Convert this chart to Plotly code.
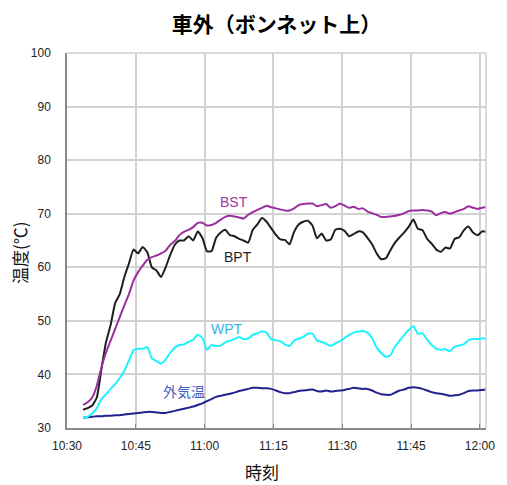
import pandas as pd
import plotly.graph_objects as go

# Sampling times: one reading per minute
times = pd.date_range("2020-08-01 10:33:30", periods=89, freq="1min")

bst = [34.3, 34.8, 35.7, 37.9, 41.3, 44.1, 46.3, 48.5, 50.7, 52.9,
       55.0, 57.5, 59.1, 60.3, 61.4, 61.9, 62.2, 62.6, 63.1, 64.2,
       64.9, 66.0, 66.6, 67.0, 67.5, 68.3, 68.3, 67.8, 67.9, 68.3,
       68.9, 69.4, 69.6, 69.5, 69.3, 69.1, 69.8, 70.3, 70.7, 71.1,
       71.5, 71.2, 71.0, 70.8, 70.6, 70.6, 71.0, 71.6, 71.8, 71.9,
       71.9, 71.4, 71.6, 71.8, 71.1, 71.4, 71.9, 71.5, 71.1, 71.3,
       70.9, 71.0, 70.4, 70.1, 69.8, 69.4, 69.4, 69.5, 69.6, 69.8,
       70.1, 70.5, 70.6, 70.6, 70.7, 70.6, 70.4, 69.7, 70.1, 70.3,
       70.0, 70.3, 70.6, 70.9, 71.4, 71.1, 70.9, 71.1, 71.3]

bpt = [33.4, 33.7, 34.2, 35.7, 41.0, 46.0, 49.2, 53.3, 55.0, 58.2,
       60.7, 63.3, 62.6, 63.8, 62.8, 60.0, 59.4, 58.2, 60.0, 62.3,
       64.2, 65.0, 65.0, 65.8, 65.0, 66.7, 65.5, 63.0, 63.0, 65.5,
       66.5, 67.0, 66.0, 65.8, 65.3, 65.0, 64.6, 67.0, 68.0, 69.2,
       68.5, 67.3, 66.1, 65.2, 65.1, 64.3, 66.6, 68.0, 68.5, 68.7,
       67.8, 65.4, 66.3, 65.0, 65.2, 67.0, 67.2, 66.8, 65.8, 66.2,
       66.7, 66.5, 65.5, 64.3, 62.6, 61.5, 61.7, 63.2, 64.6, 65.6,
       66.5, 67.6, 68.9, 67.2, 66.9, 65.3, 64.4, 63.3, 62.9, 63.7,
       63.5, 65.3, 65.6, 66.9, 67.6, 66.5, 66.0, 66.7, 66.6]

wpt = [31.9, 32.1, 32.7, 33.7, 35.4, 36.3, 37.3, 38.2, 39.3, 40.7,
       42.6, 44.5, 44.8, 44.8, 45.1, 43.0, 42.5, 42.0, 42.8, 44.0,
       45.0, 45.5, 45.6, 46.1, 46.5, 47.4, 46.8, 44.6, 45.5, 45.3,
       45.4, 46.0, 46.3, 46.6, 47.0, 46.6, 46.7, 47.4, 47.7, 48.0,
       47.8, 46.6, 46.4, 46.2, 45.6, 45.3, 46.3, 46.7, 47.0, 47.6,
       47.6, 46.3, 46.1, 45.7, 45.3, 45.8, 46.2, 46.8, 47.4, 47.8,
       48.0, 48.1, 47.8, 46.8, 45.0, 44.0, 43.3, 43.6, 45.2, 46.3,
       47.4, 48.3, 49.0, 47.6, 47.7, 46.5, 45.5, 44.8, 44.6, 44.7,
       44.3, 45.2, 45.4, 45.6, 46.4, 46.6, 46.6, 46.7, 46.7]

outdoor = [31.9, 32.0, 32.1, 32.2, 32.2, 32.3, 32.3, 32.4, 32.4, 32.5,
           32.6, 32.7, 32.8, 32.9, 33.0, 33.0, 32.9, 32.8, 32.8, 33.0,
           33.2, 33.4, 33.6, 33.8, 34.0, 34.3, 34.6, 35.0, 35.4, 35.8,
           36.0, 36.2, 36.4, 36.6, 36.9, 37.1, 37.3, 37.5, 37.5, 37.4,
           37.4, 37.3, 37.0, 36.7, 36.5, 36.5, 36.7, 36.9, 37.0, 37.1,
           37.2, 36.9, 36.8, 37.0, 36.8, 36.9, 37.0, 37.1, 37.3, 37.5,
           37.4, 37.3, 37.3, 37.0, 36.6, 36.3, 36.2, 36.2, 36.6, 37.0,
           37.2, 37.5, 37.6, 37.5, 37.3, 37.0, 36.7, 36.5, 36.4, 36.2,
           36.0, 36.1, 36.2, 36.5, 36.9, 37.0, 37.0, 37.1, 37.2]

series_names = ["BST", "BPT", "WPT", "外気温"]
y_ticks = [30, 40, 50, 60, 70, 80, 90, 100]

DAY = "2020-08-01 "
JP = "Noto Sans CJK JP"
LAT = "Liberation Sans, Arial, sans-serif"

fig = go.Figure()
line_styles = [
    (outdoor, "#22228f"),
    (wpt, "#1ff2ff"),
    (bpt, "#1e1e1e"),
    (bst, "#9a2f9e"),
]
names_in_order = ["外気温", "WPT", "BPT", "BST"]
for (vals, col), nm in zip(line_styles, names_in_order):
    fig.add_trace(go.Scatter(
        x=times, y=vals, name=nm, mode="lines",
        line=dict(color=col, width=2, shape="spline", smoothing=0.5),
        showlegend=False, hoverinfo="skip",
    ))

# Series labels placed next to each curve
labels = [
    ("BST", DAY + "11:06:18", 72.1, "#a3359f"),
    ("BPT", DAY + "11:07:12", 61.9, "#1e1e1e"),
    ("WPT", DAY + "11:04:54", 48.4, "#35b3e6"),
    ("外気温", DAY + "10:55:24", 36.9, "#3f5fc8"),
]
for txt, xv, yv, col in labels:
    fig.add_annotation(x=xv, y=yv, text=txt, showarrow=False,
                       font=dict(family=JP if txt == "外気温" else LAT,
                                 size=14, color=col),
                       xanchor="center", yanchor="middle")

# Axis titles
fig.add_annotation(xref="paper", yref="paper", x=-0.112, y=0.467,
                   text="温度(℃)", textangle=-90, showarrow=False,
                   font=dict(family=JP, size=17, color="#111"),
                   xanchor="center", yanchor="middle")
fig.add_annotation(xref="paper", yref="paper", x=0.466, y=-0.117,
                   text="時刻", showarrow=False,
                   font=dict(family=JP, size=17, color="#111"),
                   xanchor="center", yanchor="middle")

# Light frame on the top and right sides
fig.add_shape(type="line", xref="paper", yref="paper", x0=0, x1=1, y0=1, y1=1,
              line=dict(color="#cfcfcf", width=1.5))
fig.add_shape(type="line", xref="paper", yref="paper", x0=1, x1=1, y0=0, y1=1,
              line=dict(color="#cfcfcf", width=1.5))

fig.update_layout(
    width=507, height=485,
    margin=dict(l=67, r=12, t=53, b=57),
    paper_bgcolor="white", plot_bgcolor="white",
    title=dict(text="<b>車外（ボンネット上）</b>", x=0.5, xref="paper",
               y=1 - 25 / 485, yref="container", xanchor="center", yanchor="middle",
               font=dict(family=JP, size=21, color="#000")),
    xaxis=dict(
        type="date",
        range=[DAY + "10:30:00", DAY + "12:01:20"],
        tick0=DAY + "10:30:00", dtick=15 * 60 * 1000,
        tickformat="%H:%M",
        showgrid=True, gridcolor="#d2d2d2", gridwidth=1.5,
        showline=True, linecolor="#8a8a8a", linewidth=1.5,
        ticks="inside", ticklen=4, tickcolor="#8a8a8a",
        tickfont=dict(family=LAT, size=12, color="#222"),
        ticklabelstandoff=6,
        zeroline=False,
    ),
    yaxis=dict(
        range=[30, 100],
        tickvals=y_ticks,
        showgrid=True, gridcolor="#d2d2d2", gridwidth=1.5,
        showline=True, linecolor="#8a8a8a", linewidth=1.5,
        ticks="",
        tickfont=dict(family=LAT, size=12, color="#222"),
        ticklabelstandoff=12,
        zeroline=False,
    ),
)

fig.write_html("out.html")
